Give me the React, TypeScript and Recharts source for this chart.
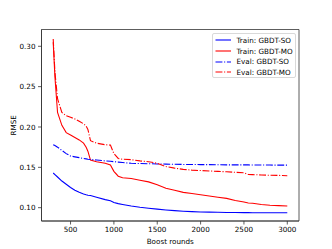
import { Line, LineChart, ReferenceArea, XAxis, YAxis } from "recharts";

const rounds = [
  300, 320, 350, 400, 450, 500, 550, 600, 650, 680, 700, 730, 800, 900, 960,
  1000, 1050, 1100, 1200, 1300, 1400, 1500, 1600, 1700, 1800, 1900, 2000,
  2100, 2200, 2300, 2400, 2500, 2550, 2600, 2700, 2800, 2900, 3000,
];

const trainSO = [
  0.143, 0.141, 0.138, 0.133, 0.129, 0.125, 0.1215, 0.119, 0.117, 0.116,
  0.1155, 0.115, 0.113, 0.11, 0.1085, 0.1065, 0.105, 0.104, 0.102, 0.1005,
  0.0993, 0.0982, 0.0972, 0.0963, 0.0956, 0.0951, 0.0947, 0.0945, 0.0943,
  0.0941, 0.094, 0.0939, 0.0939, 0.0938, 0.0938, 0.0938, 0.0938, 0.0938,
];

const trainMO = [
  0.305, 0.262, 0.218, 0.202, 0.193, 0.19, 0.187, 0.184, 0.18, 0.175, 0.17,
  0.159, 0.157, 0.155, 0.153, 0.145, 0.139, 0.137, 0.1362, 0.134, 0.132,
  0.1285, 0.124, 0.1215, 0.119, 0.1175, 0.116, 0.1145, 0.113, 0.1115, 0.109,
  0.107, 0.1058, 0.1055, 0.104, 0.103, 0.1025, 0.102,
];

const evalSO = [
  0.178, 0.177, 0.175, 0.171, 0.167, 0.164, 0.163, 0.162, 0.161, 0.1605,
  0.16, 0.1598, 0.159, 0.158, 0.1575, 0.157, 0.1565, 0.156, 0.155, 0.1547,
  0.1545, 0.1542, 0.154, 0.1538, 0.1536, 0.1535, 0.1534, 0.1533, 0.1532,
  0.1531, 0.153, 0.153, 0.153, 0.1529, 0.1529, 0.1528, 0.1528, 0.1528,
];

const evalMO = [
  0.309, 0.268, 0.235, 0.218, 0.214, 0.212, 0.21, 0.207, 0.204, 0.201, 0.197,
  0.183, 0.18, 0.178, 0.1775, 0.167, 0.161, 0.16, 0.1595, 0.158, 0.157,
  0.155, 0.151, 0.149, 0.1475, 0.1465, 0.146, 0.1455, 0.145, 0.1445, 0.1438,
  0.1432, 0.1412, 0.141, 0.1405, 0.1402, 0.14, 0.1396,
];

const xTicks = [500, 1000, 1500, 2000, 2500, 3000];
const yTicks = [0.1, 0.15, 0.2, 0.25, 0.3];

const X_DOMAIN: [number, number] = [165, 3135];
const Y_DOMAIN: [number, number] = [0.0835, 0.3208];

const series = [
  { key: "trainSO", name: "Train: GBDT-SO", color: "#0000ff", dash: undefined },
  { key: "trainMO", name: "Train: GBDT-MO", color: "#ff0000", dash: undefined },
  { key: "evalSO", name: "Eval: GBDT-SO", color: "#0000ff", dash: "6.9 1.7 1.1 1.7" },
  { key: "evalMO", name: "Eval: GBDT-MO", color: "#ff0000", dash: "6.9 1.7 1.1 1.7" },
];

const FONT = "'DejaVu Sans', sans-serif";

function ChartLegend() {
  return (
    <div
      style={{
        position: "absolute",
        left: 211.5,
        top: 33,
        width: 84,
        height: 45,
        boxSizing: "border-box",
        border: "1px solid #d9d9d9",
        borderRadius: 2,
        background: "rgba(255,255,255,0.8)",
        padding: "1px 0 0 2px",
      }}
    >
      {series.map((s) => (
        <div
          key={s.key}
          style={{
            display: "flex",
            alignItems: "center",
            height: 10.7,
            fontSize: 7.2,
            fontFamily: FONT,
            color: "#000",
            whiteSpace: "nowrap",
          }}
        >
          <svg width={17} height={6} style={{ marginRight: 5, flexShrink: 0 }}>
            <line x1={0.5} x2={16} y1={3} y2={3} stroke={s.color} strokeWidth={1.1} strokeDasharray={s.dash} />
          </svg>
          {s.name}
        </div>
      ))}
    </div>
  );
}

export default function App() {
  const data = rounds.map((round, i) => ({
    round,
    trainSO: trainSO[i],
    trainMO: trainMO[i],
    evalSO: evalSO[i],
    evalMO: evalMO[i],
  }));

  const tickStyle = { fill: "#000", fontSize: 7.2, fontFamily: FONT };
  const spine = { stroke: "#333", strokeWidth: 0.8 };

  return (
    <div style={{ position: "fixed", left: 0, top: 0, width: 332, height: 249, background: "#fff" }}>
      <LineChart width={332} height={249} data={data} margin={{ top: 29.5, right: 33, bottom: 0, left: 0 }}>
        <XAxis
          dataKey="round"
          type="number"
          domain={X_DOMAIN}
          ticks={xTicks}
          allowDataOverflow
          tick={tickStyle}
          tickSize={3.5}
          tickMargin={2}
          height={28}
          axisLine={spine}
          tickLine={spine}
          label={{ value: "Boost rounds", position: "insideBottom", offset: 5, fontSize: 7.2, fontFamily: FONT, fill: "#000" }}
        />
        <YAxis
          type="number"
          domain={Y_DOMAIN}
          ticks={yTicks}
          allowDataOverflow
          width={41.5}
          tick={tickStyle}
          tickSize={3.5}
          tickMargin={2.5}
          tickFormatter={(v: number) => v.toFixed(2)}
          axisLine={spine}
          tickLine={spine}
          label={{
            value: "RMSE",
            angle: -90,
            position: "insideLeft",
            offset: 13,
            fontSize: 7.2,
            fontFamily: FONT,
            fill: "#000",
            style: { textAnchor: "middle" },
          }}
        />
        <ReferenceArea
          x1={X_DOMAIN[0]}
          x2={X_DOMAIN[1]}
          y1={Y_DOMAIN[0]}
          y2={Y_DOMAIN[1]}
          fill="none"
          stroke="#333"
          strokeWidth={0.8}
          ifOverflow="visible"
        />
        {series.map((s) => (
          <Line
            key={s.key}
            type="linear"
            dataKey={s.key}
            name={s.name}
            stroke={s.color}
            strokeWidth={1.1}
            strokeDasharray={s.dash}
            dot={false}
            activeDot={false}
            isAnimationActive={false}
          />
        ))}
      </LineChart>
      <ChartLegend />
    </div>
  );
}
